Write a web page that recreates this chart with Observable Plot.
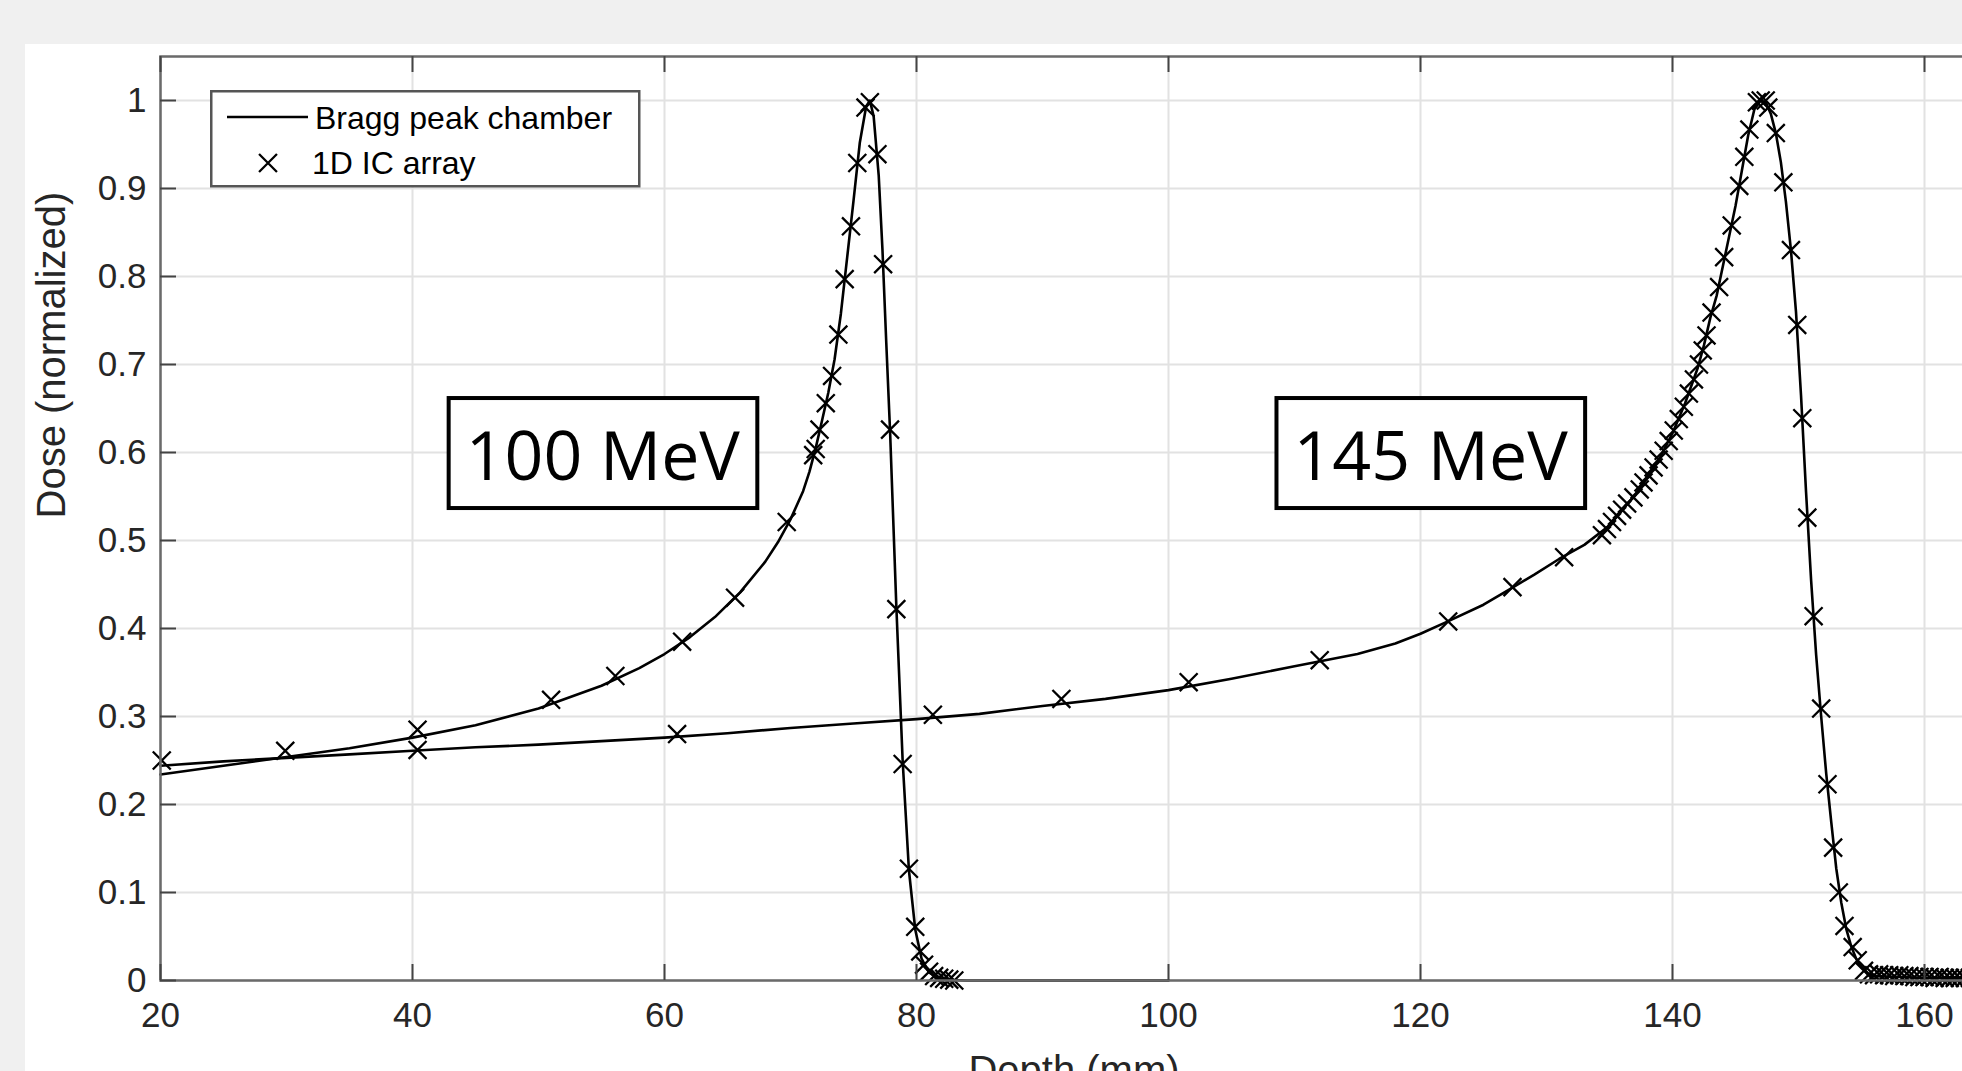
<!DOCTYPE html>
<html><head><meta charset="utf-8">
<script src="https://cdn.jsdelivr.net/npm/d3@7"></script>
<script src="https://cdn.jsdelivr.net/npm/@observablehq/plot@0.6"></script>
<style>
html,body{margin:0;padding:0;background:#f0f0f0;overflow:hidden;width:1962px;height:1071px;position:relative;}
#fig{position:absolute;left:25px;top:44px;width:2100px;height:1100px;background:#fff;}
#chart{position:absolute;left:0;top:0;width:2100px;}
#chart svg{max-width:none !important;}
#legend{position:absolute;left:210px;top:90px;}
</style></head><body>
<div id="fig"></div>
<div id="chart"></div>
<div id="legend"></div>
<script>
// ---- Data ----
const seriesNames = ["Bragg peak chamber", "1D IC array"];
const energies = ["100 MeV", "145 MeV"];

// Bragg peak chamber, 100 MeV
const depth100 = [20,25,30,35,40,45,50,55,58,60,62,64,66,68,69,70,71,71.5,72,72.5,73,73.5,74,74.5,75,75.5,76,76.3,76.6,77,77.3,77.6,77.9,78.4,78.9,79.4,79.9,80.4,81,82,83,84,90,100];
const dose100 = [0.234,0.244,0.254,0.264,0.276,0.290,0.309,0.335,0.355,0.371,0.390,0.413,0.441,0.476,0.498,0.524,0.556,0.578,0.605,0.636,0.668,0.706,0.758,0.822,0.886,0.952,0.993,1.0,0.982,0.915,0.83,0.725,0.625,0.425,0.25,0.125,0.058,0.025,0.009,0.002,0.0005,0,0,0];

// Bragg peak chamber, 145 MeV
const depth145 = [20,25,30,35,40,45,50,55,60,65,70,75,80,85,90,95,100,105,110,115,118,120,122,125,127,129,131,133,135,136,137,138,139,140,141,142,142.5,143,143.5,144,144.5,145,145.5,146,146.5,147,147.4,147.8,148.2,148.6,149,149.4,149.8,150.2,150.6,151,151.4,151.8,152.2,152.6,153,153.4,153.8,154.2,154.6,155,155.5,156,158,160,165];
const dose145 = [0.244,0.249,0.253,0.257,0.261,0.265,0.268,0.272,0.276,0.281,0.287,0.292,0.297,0.303,0.312,0.320,0.330,0.343,0.357,0.371,0.383,0.394,0.407,0.427,0.444,0.461,0.479,0.495,0.517,0.535,0.551,0.572,0.594,0.622,0.656,0.696,0.722,0.753,0.778,0.812,0.846,0.880,0.920,0.960,0.990,1.0,0.998,0.985,0.963,0.930,0.885,0.830,0.760,0.665,0.555,0.455,0.370,0.300,0.235,0.180,0.127,0.088,0.058,0.038,0.024,0.015,0.008,0.005,0.004,0.003,0.003];

// 1D IC array, 100 MeV
const icDepth100 = [29.9,40.4,51.0,56.1,61.4,65.6,69.7,71.8,72.0,72.3,72.8,73.3,73.8,74.3,74.8,75.3,75.95,76.3,76.9,77.35,77.9,78.4,78.9,79.4,79.9,80.3,80.6,81.0,81.4,81.8,82.2,82.6,83.0];
const icDose100 = [0.261,0.285,0.319,0.346,0.385,0.435,0.521,0.597,0.604,0.626,0.656,0.687,0.734,0.797,0.857,0.929,0.992,0.998,0.939,0.814,0.626,0.422,0.246,0.127,0.061,0.033,0.018,0.010,0.005,0.003,0.002,0.001,0.0];

// 1D IC array, 145 MeV
const icDepth145 = [20.1,40.4,61.0,81.3,91.5,101.6,112.0,122.2,127.3,131.4,134.4,134.8,135.2,135.6,136.0,136.4,136.9,137.4,137.7,138.1,138.5,138.9,139.3,139.7,140.1,140.5,140.9,141.3,141.7,142.1,142.4,142.7,143.1,143.7,144.1,144.7,145.3,145.7,146.1,146.7,147.0,147.4,147.6,148.2,148.8,149.4,149.9,150.3,150.7,151.2,151.8,152.3,152.75,153.2,153.65,154.3,154.7,155.2,155.6,156.0,156.4,156.8,157.2,157.6,158.0,158.4,158.8,159.2,159.6,160.0,160.4,160.8,161.2,161.6,162.0,162.4,162.8,163.2,163.6,164.0,164.4];
const icDose145 = [0.250,0.262,0.280,0.302,0.320,0.339,0.364,0.408,0.447,0.481,0.506,0.513,0.521,0.528,0.535,0.542,0.549,0.558,0.566,0.574,0.583,0.592,0.602,0.613,0.625,0.638,0.652,0.667,0.683,0.700,0.716,0.733,0.759,0.788,0.822,0.858,0.903,0.936,0.967,0.998,1.0,1.0,0.992,0.963,0.907,0.830,0.745,0.639,0.526,0.414,0.309,0.223,0.151,0.100,0.062,0.038,0.023,0.011,0.007,0.006,0.007,0.006,0.006,0.005,0.006,0.005,0.005,0.004,0.004,0.004,0.004,0.003,0.004,0.003,0.003,0.003,0.003,0.003,0.003,0.003,0.003];

// Axes
const xTicks = [20,40,60,80,100,120,140,160];
const yTicks = [0,0.1,0.2,0.3,0.4,0.5,0.6,0.7,0.8,0.9,1];
const yTickLabels = ["0","0.1","0.2","0.3","0.4","0.5","0.6","0.7","0.8","0.9","1"];
const xLabel = "Depth (mm)";
const yLabel = "Dose (normalized)";

// Annotations (data coordinates)
const annotLabels = ["100 MeV", "145 MeV"];
const annotDepth = [55.1, 120.8];
const annotDose = [0.594, 0.594];

// ---- Tables ----
const chamber = [
  ...depth100.map((d, i) => ({depth: d, dose: dose100[i], energy: energies[0]})),
  ...depth145.map((d, i) => ({depth: d, dose: dose145[i], energy: energies[1]}))
];
const ic = [
  ...icDepth100.map((d, i) => ({depth: d, dose: icDose100[i], energy: energies[0]})),
  ...icDepth145.map((d, i) => ({depth: d, dose: icDose145[i], energy: energies[1]}))
];
const annots = annotLabels.map((t, i) => ({text: t, depth: annotDepth[i], dose: annotDose[i]}));

// ---- Layout ----
const W = 2047, H = 1120, mL = 160, mT = 56, mB = 140, mR = 60;
const fw = W - mL - mR, fh = H - mT - mB;
const tickLen = 16;
const font = "'Liberation Sans', Arial, Helvetica, sans-serif";

const plot = Plot.plot({
  width: W, height: H,
  marginLeft: mL, marginTop: mT, marginBottom: mB, marginRight: mR,
  style: {background: "transparent", fontFamily: font, color: "#262626", overflow: "visible", maxWidth: "none"},
  x: {domain: [20, 165]},
  y: {domain: [0, 1.05]},
  marks: [
    Plot.gridX(xTicks, {stroke: "#e2e2e2", strokeOpacity: 1, strokeWidth: 2}),
    Plot.gridY(yTicks, {stroke: "#e2e2e2", strokeOpacity: 1, strokeWidth: 2}),
    Plot.line(chamber, {x: "depth", y: "dose", z: "energy", stroke: "#000", strokeWidth: 2.6, curve: "linear"}),
    Plot.dot(ic, {x: "depth", y: "dose", symbol: "times", r: 8.2, stroke: "#000", strokeWidth: 2.3}),
    Plot.text(annots, {x: "depth", y: "dose", text: "text", fontSize: 68, fontFamily: "'Open Sans', 'Noto Sans', sans-serif", fill: "#000", lineAnchor: "middle", textAnchor: "middle"}),
    Plot.frame({stroke: "#6a6a6a", strokeWidth: 2.5}),
    Plot.tickX(xTicks, {x: d => d, insetTop: fh - tickLen, stroke: "#444", strokeWidth: 2}),
    Plot.tickX(xTicks, {x: d => d, insetBottom: fh - tickLen, stroke: "#444", strokeWidth: 2}),
    Plot.tickY(yTicks, {y: d => d, insetRight: fw - tickLen, stroke: "#444", strokeWidth: 2}),
    Plot.axisX(xTicks, {tickSize: 0, tickPadding: 22, fontSize: 35, label: null, fill: "#262626"}),
    Plot.axisY(yTicks, {tickSize: 0, tickPadding: 14, fontSize: 35, label: null, fill: "#262626",
      tickFormat: d => yTickLabels[yTicks.indexOf(d)]}),
    Plot.text([xLabel], {frameAnchor: "bottom", dy: 75, lineAnchor: "top", fontSize: 40, fill: "#262626"}),
    Plot.text([yLabel], {frameAnchor: "left", dx: -108, rotate: -90, lineAnchor: "middle", fontSize: 40, fill: "#262626"})
  ]
});
document.getElementById("chart").appendChild(plot);

// Boxes around annotation texts
const NS = "http://www.w3.org/2000/svg";
plot.querySelectorAll("text").forEach(t => {
  if (!annotLabels.includes(t.textContent)) return;
  const b = t.getBBox();
  const bw = b.width + 34, bh = 110;
  const cx = b.x + b.width / 2, cy = b.y + b.height / 2;
  const r = document.createElementNS(NS, "rect");
  r.setAttribute("x", cx - bw / 2);
  r.setAttribute("y", cy - bh / 2);
  r.setAttribute("width", bw);
  r.setAttribute("height", bh);
  r.setAttribute("fill", "#fff");
  r.setAttribute("stroke", "#000");
  r.setAttribute("stroke-width", 4);
  if (t.getAttribute("transform")) r.setAttribute("transform", t.getAttribute("transform"));
  t.parentNode.insertBefore(r, t);
});

// Legend
const lg = d3.select("#legend").append("svg").attr("width", 434).attr("height", 99)
  .style("font-family", font);
lg.append("rect").attr("x", 1.25).attr("y", 1.25).attr("width", 428).attr("height", 95)
  .attr("fill", "#fff").attr("stroke", "#555").attr("stroke-width", 2.5);
lg.append("line").attr("x1", 17).attr("x2", 98).attr("y1", 27).attr("y2", 27)
  .attr("stroke", "#000").attr("stroke-width", 2.6);
lg.append("text").attr("x", 105).attr("y", 39).attr("font-size", 32).attr("fill", "#000").text(seriesNames[0]);
lg.append("path").attr("d", d3.symbol(d3.symbolTimes, Math.PI * 8.2 * 8.2)()).attr("transform", "translate(58,73)")
  .attr("fill", "none").attr("stroke", "#000").attr("stroke-width", 2.3);
lg.append("text").attr("x", 102).attr("y", 84).attr("font-size", 32).attr("fill", "#000").text(seriesNames[1]);
</script>
</body></html>
